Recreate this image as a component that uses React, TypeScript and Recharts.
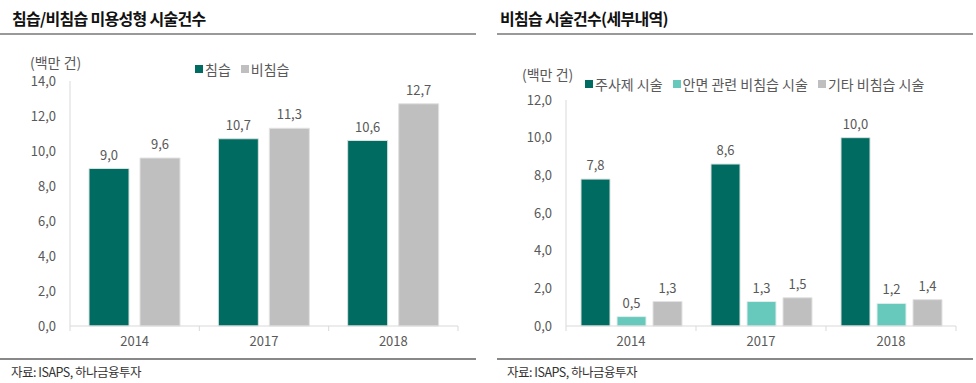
import { BarChart, Bar, XAxis, YAxis, LabelList } from "recharts";

const years = ["2014", "2017", "2018"];
const invasive = [9.0, 10.7, 10.6];
const nonInvasive = [9.6, 11.3, 12.7];

const injection = [7.8, 8.6, 10.0];
const facial = [0.5, 1.3, 1.2];
const otherNon = [1.3, 1.5, 1.4];

const leftTicks = [0, 2, 4, 6, 8, 10, 12, 14];
const rightTicks = [0, 2, 4, 6, 8, 10, 12];

const DARK = "#006b60";
const TEAL = "#66c9bc";
const GRAY = "#bfbfbf";
const AXIS = "#d9d9d9";
const TXT = "#595959";
const FONT = "'Noto Sans CJK KR', 'Noto Sans', sans-serif";

const leftData = years.map((year, i) => ({
  year,
  invasive: invasive[i],
  nonInvasive: nonInvasive[i],
}));

const rightData = years.map((year, i) => ({
  year,
  injection: injection[i],
  facial: facial[i],
  otherNon: otherNon[i],
}));

// the source uses a comma as decimal mark
const fmt = (v: number) => Number(v).toFixed(1).replace(".", ",");

// x-axis tick: label at the center, small marks at category boundaries
function YearTick(props: any) {
  const { x, y, payload, index, band } = props;
  return (
    <g>
      <line x1={x - band / 2} x2={x - band / 2} y1={y - 8} y2={y - 3} stroke={AXIS} />
      {index === years.length - 1 && (
        <line x1={x + band / 2} x2={x + band / 2} y1={y - 8} y2={y - 3} stroke={AXIS} />
      )}
      <text x={x} y={y + 12} textAnchor="middle" fill={TXT} fontSize={13} fontFamily={FONT}>
        {payload.value}
      </text>
    </g>
  );
}

function LegendItems({ items, style }: { items: { name: string; color: string }[]; style: any }) {
  return (
    <div style={{ position: "absolute", display: "flex", alignItems: "center", fontSize: 14, color: TXT, fontFamily: FONT, whiteSpace: "nowrap", ...style }}>
      {items.map((it) => (
        <div key={it.name} style={{ display: "flex", alignItems: "center", marginRight: 10 }}>
          <span style={{ width: 8, height: 8, background: it.color, marginRight: 2, display: "inline-block" }} />
          <span>{it.name}</span>
        </div>
      ))}
    </div>
  );
}

function Frame({ left, title }: { left: number; title: string }) {
  const lineLeft = left === 0 ? 0 : left + 9;
  return (
    <>
      <div style={{ position: "absolute", left: left + 12, top: 6, fontSize: 16, fontWeight: 700, color: "#111", fontFamily: FONT, letterSpacing: -0.7, whiteSpace: "nowrap" }}>
        {title}
      </div>
      <div style={{ position: "absolute", left: lineLeft, top: 33, width: 476, height: 2, background: "#999" }} />
      <div style={{ position: "absolute", left: lineLeft, top: 358, width: 476, height: 2, background: "#888" }} />
      <div style={{ position: "absolute", left: left === 0 ? 11 : left + 19, top: 362, fontSize: 12.5, color: "#333", fontFamily: FONT, letterSpacing: -0.5, whiteSpace: "nowrap" }}>
        자료: ISAPS, 하나금융투자
      </div>
    </>
  );
}

export default function App() {
  const leftBand = (458 - 70) / 3;
  const rightBand = (956 - 566) / 3;
  return (
    <div style={{ position: "absolute", left: 0, top: 0, width: 976, height: 383, background: "#fff", fontFamily: FONT, overflow: "hidden" }}>
      <Frame left={0} title="침습/비침습 미용성형 시술건수" />
      <Frame left={488} title="비침습 시술건수(세부내역)" />

      <div style={{ position: "absolute", left: 30, top: 52, fontSize: 14, color: TXT, whiteSpace: "nowrap" }}>(백만 건)</div>
      <div style={{ position: "absolute", left: 522, top: 64, fontSize: 14, color: TXT, whiteSpace: "nowrap" }}>(백만 건)</div>

      <LegendItems
        style={{ left: 195, top: 59 }}
        items={[
          { name: "침습", color: DARK },
          { name: "비침습", color: GRAY },
        ]}
      />
      <LegendItems
        style={{ left: 585, top: 74 }}
        items={[
          { name: "주사제 시술", color: DARK },
          { name: "안면 관련 비침습 시술", color: TEAL },
          { name: "기타 비침습 시술", color: GRAY },
        ]}
      />

      <div style={{ position: "absolute", left: 0, top: 0 }}>
        <BarChart
          width={476}
          height={383}
          data={leftData}
          margin={{ top: 81, right: 18, bottom: 27, left: 10 }}
          barSize={40}
          barGap={11}
        >
          <XAxis
            dataKey="year"
            stroke={AXIS}
            tickLine={false}
            height={30}
            tick={<YearTick band={leftBand} />}
          />
          <YAxis
            width={60}
            domain={[0, 14]}
            ticks={leftTicks}
            tickFormatter={fmt}
            stroke={AXIS}
            tickLine={false}
            tickMargin={8}
            tick={{ fill: TXT, fontSize: 13, fontFamily: FONT }}
            interval={0}
          />
          <Bar dataKey="invasive" fill={DARK} stroke="#d8e2e0" strokeWidth={1} isAnimationActive={false}>
            <LabelList dataKey="invasive" position="top" offset={9} formatter={fmt} fill={TXT} fontSize={13} fontFamily={FONT} />
          </Bar>
          <Bar dataKey="nonInvasive" fill={GRAY} stroke="#e2e2e2" strokeWidth={1} isAnimationActive={false}>
            <LabelList dataKey="nonInvasive" position="top" offset={9} formatter={fmt} fill={TXT} fontSize={13} fontFamily={FONT} />
          </Bar>
        </BarChart>
      </div>

      <div style={{ position: "absolute", left: 488, top: 0 }}>
        <BarChart
          width={488}
          height={383}
          data={rightData}
          margin={{ top: 100, right: 20, bottom: 27, left: 18 }}
          barSize={29}
          barGap={7}
        >
          <XAxis
            dataKey="year"
            stroke={AXIS}
            tickLine={false}
            height={30}
            tick={<YearTick band={rightBand} />}
          />
          <YAxis
            width={60}
            domain={[0, 12]}
            ticks={rightTicks}
            tickFormatter={fmt}
            stroke={AXIS}
            tickLine={false}
            tickMargin={8}
            tick={{ fill: TXT, fontSize: 13, fontFamily: FONT }}
            interval={0}
          />
          <Bar dataKey="injection" fill={DARK} stroke="#d8e2e0" strokeWidth={1} isAnimationActive={false}>
            <LabelList dataKey="injection" position="top" offset={9} formatter={fmt} fill={TXT} fontSize={13} fontFamily={FONT} />
          </Bar>
          <Bar dataKey="facial" fill={TEAL} stroke="#e2eeec" strokeWidth={1} isAnimationActive={false}>
            <LabelList dataKey="facial" position="top" offset={9} formatter={fmt} fill={TXT} fontSize={13} fontFamily={FONT} />
          </Bar>
          <Bar dataKey="otherNon" fill={GRAY} stroke="#e2e2e2" strokeWidth={1} isAnimationActive={false}>
            <LabelList dataKey="otherNon" position="top" offset={9} formatter={fmt} fill={TXT} fontSize={13} fontFamily={FONT} />
          </Bar>
        </BarChart>
      </div>
    </div>
  );
}
